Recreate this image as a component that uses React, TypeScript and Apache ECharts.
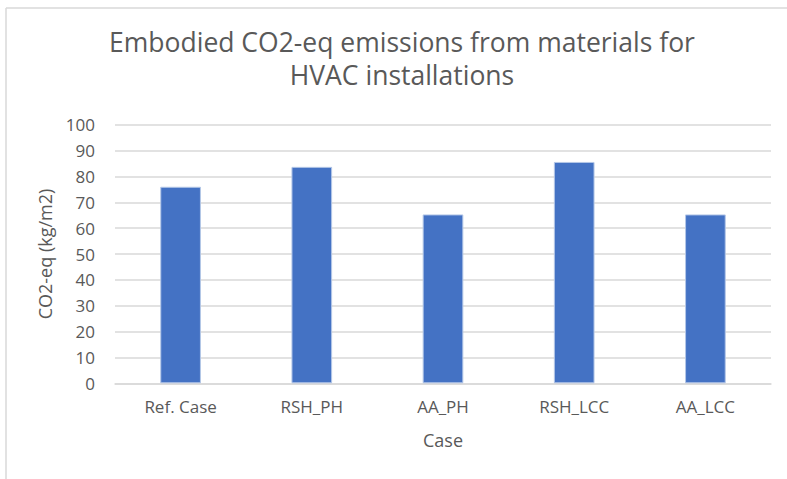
import React, { useEffect, useRef } from "react";
import * as echarts from "echarts";

const categories = ["Ref. Case", "RSH_PH", "AA_PH", "RSH_LCC", "AA_LCC"];
const values = [76.0, 83.7, 65.3, 85.6, 65.3];
const titleLines = ["Embodied CO2-eq emissions from materials for", "HVAC installations"];
const yAxisName = "CO2-eq (kg/m2)";
const xAxisName = "Case";

const FONT = "Open Sans";
const TEXT = "#595959";

export default function App() {
  const ref = useRef<HTMLDivElement>(null);
  useEffect(() => {
    document.body.style.margin = "0";
    const chart = echarts.init(ref.current!, undefined, { renderer: "svg" });
    chart.setOption({
      animation: false,
      backgroundColor: "#ffffff",
      title: {
        text: titleLines.join("\n"),
        left: 397,
        top: 20,
        textAlign: "center",
        textStyle: {
          fontFamily: FONT,
          fontSize: 26.5,
          fontWeight: "normal",
          color: TEXT,
          lineHeight: 33,
        },
      },
      graphic: [
        {
          type: "line",
          shape: { x1: 6, y1: 8, x2: 787, y2: 8 },
          style: { stroke: "#d9d9d9", lineWidth: 1.5 },
        },
        {
          type: "line",
          shape: { x1: 6, y1: 8, x2: 6, y2: 479 },
          style: { stroke: "#d9d9d9", lineWidth: 1.5 },
        },
      ],
      grid: { left: 115, right: 16, top: 124.7, bottom: 95.7 },
      xAxis: {
        type: "category",
        data: categories,
        name: xAxisName,
        nameLocation: "middle",
        nameGap: 48,
        nameTextStyle: { fontFamily: FONT, fontSize: 18, color: TEXT },
        axisLine: { lineStyle: { color: "#d9d9d9", width: 1.5 } },
        axisTick: { show: false },
        axisLabel: { fontFamily: FONT, fontSize: 17, color: TEXT, margin: 15 },
      },
      yAxis: {
        type: "value",
        min: 0,
        max: 100,
        interval: 10,
        name: yAxisName,
        nameLocation: "middle",
        nameGap: 61,
        nameTextStyle: { fontFamily: FONT, fontSize: 18, color: TEXT },
        axisLine: { show: false },
        axisTick: { show: false },
        axisLabel: { fontFamily: FONT, fontSize: 17, color: TEXT, margin: 20 },
        splitLine: { lineStyle: { color: "#d9d9d9", width: 1.5 } },
      },
      series: [
        {
          type: "bar",
          data: values,
          barWidth: "31%",
          itemStyle: { color: "#4472C4", borderColor: "#b4c7e7", borderWidth: 1 },
        },
      ],
    });
    return () => chart.dispose();
  }, []);
  return <div ref={ref} style={{ width: 787, height: 479 }} />;
}
